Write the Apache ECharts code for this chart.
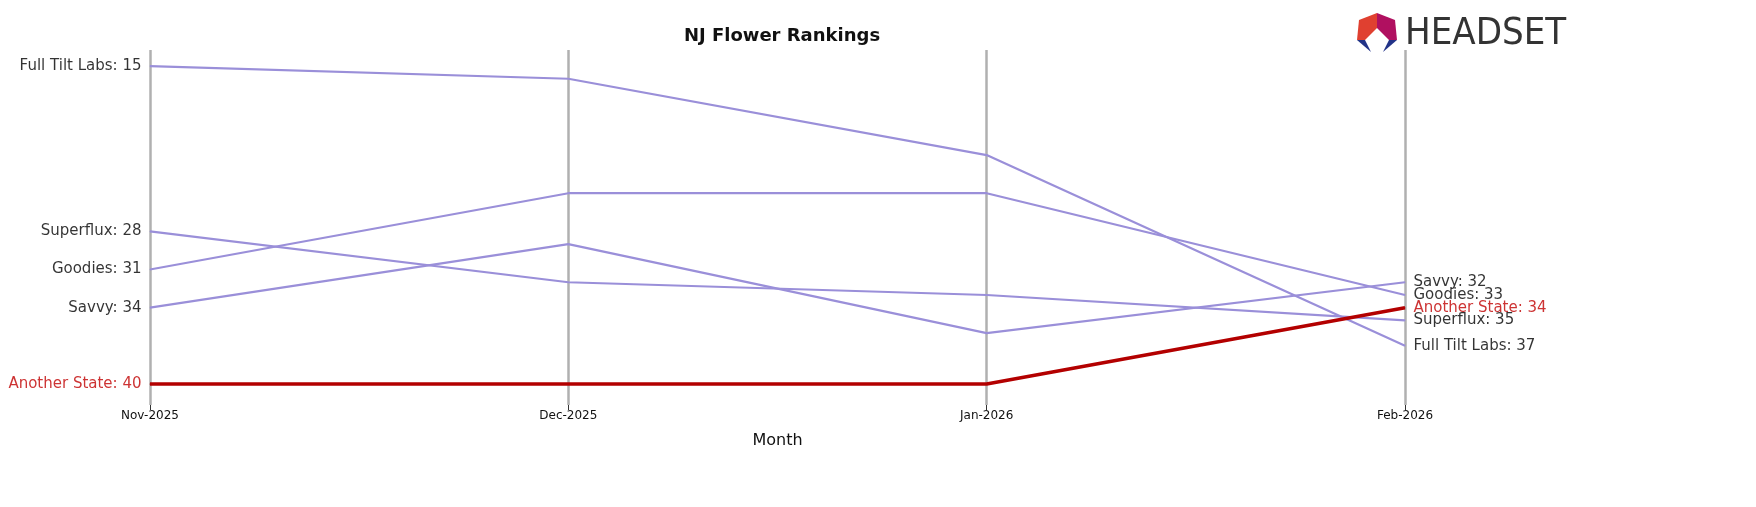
<!DOCTYPE html>
<html><head><meta charset="utf-8">
<script src="https://cdn.jsdelivr.net/npm/echarts@6/dist/echarts.min.js"></script>
<style>html,body{margin:0;padding:0;background:#fff}#c{width:1756px;height:507px}</style>
</head><body><div id="c"></div>
<script>
const months = ['Nov-2025','Dec-2025','Jan-2026','Feb-2026'];
const fullTilt = [15,16,22,37];
const superflux = [28,32,33,35];
const goodies = [31,25,25,33];
const savvy = [34,29,36,32];
const anotherState = [40,40,40,34];
const brands = [
  ['Full Tilt Labs', fullTilt],
  ['Superflux', superflux],
  ['Goodies', goodies],
  ['Savvy', savvy],
  ['Another State', anotherState]
];
const chart = echarts.init(document.getElementById('c'));
const series = [];
brands.forEach(([name, vals]) => {
  const hl = name === 'Another State';
  const col = hl ? '#b30000' : '#9a8fd9';
  const txt = hl ? '#c00000' : '#000';
  series.push({
    name, type: 'line', data: vals, symbol: 'none', z: hl ? 5 : 3,
    lineStyle: { color: col, width: hl ? 3.5 : 2.2 },
    emphasis: { disabled: true }, silent: true
  });
  const last = vals.length - 1;
  series.push({
    type: 'scatter', symbolSize: 1, itemStyle: { color: col }, z: 6, silent: true,
    data: [
      { value: [months[0], vals[0]], label: { show: true, position: 'left', distance: 8, formatter: name + ': ' + vals[0], color: txt, fontSize: 15, fontFamily: 'DejaVu Sans' } },
      { value: [months[last], vals[last]], label: { show: true, position: 'right', distance: 8, formatter: name + ': ' + vals[last], color: txt, fontSize: 15, fontFamily: 'DejaVu Sans' } }
    ],
    labelLayout: { hideOverlap: false }
  });
});
chart.setOption({
  animation: false,
  title: { text: 'NJ Flower Rankings', left: 777, top: 22, textAlign: 'center',
    textStyle: { fontSize: 18, fontWeight: 'bold', fontFamily: 'DejaVu Sans', color: '#111' } },
  grid: { left: 150, right: 351, top: 50, height: 355 },
  xAxis: {
    type: 'category', data: months, boundaryGap: false,
    name: 'Month', nameLocation: 'middle', nameGap: 28,
    nameTextStyle: { fontSize: 16, fontFamily: 'DejaVu Sans', color: '#111' },
    axisLine: { show: false },
    axisTick: { show: true, length: 5, lineStyle: { color: '#333' } },
    axisLabel: { fontSize: 12, fontFamily: 'DejaVu Sans', color: '#111', margin: 5 },
    splitLine: { show: true, lineStyle: { color: '#b0b0b0', width: 2.5 } }
  },
  yAxis: { type: 'value', inverse: true, min: 13.74, max: 41.65, show: false },
  series,
  graphic: [
    { type: 'text', left: 1405, top: 15, style: { text: 'HEADSET', fontSize: 38, fontFamily: 'DejaVu Sans Condensed', fill: '#333' } },
    { type: 'polygon', shape: { points: [[1359,20],[1377,13],[1377,28],[1365,40],[1357,40]] }, style: { fill: '#e04030' } },
    { type: 'polygon', shape: { points: [[1377,13],[1395,20],[1397,40],[1389,40],[1377,28]] }, style: { fill: '#b01060' } },
    { type: 'polygon', shape: { points: [[1357,40],[1365,40],[1371,52]] }, style: { fill: '#223388' } },
    { type: 'polygon', shape: { points: [[1389,40],[1397,40],[1383,52]] }, style: { fill: '#223388' } }
  ]
});
</script></body></html>
